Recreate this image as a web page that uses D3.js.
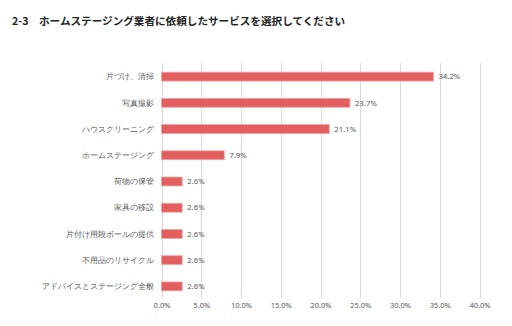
<!DOCTYPE html>
<html><head><meta charset="utf-8">
<script src="https://cdn.jsdelivr.net/npm/d3@7"></script>
<style>body{margin:0;background:#fff;}svg{display:block;font-family:"Noto Sans CJK JP","Noto Sans",sans-serif;}</style>
</head><body><svg id="c" width="512" height="326"></svg>
<script>
const title = "2-3　ホームステージング業者に依頼したサービスを選択してください";
const categories = ["片づけ、清掃","写真撮影","ハウスクリーニング","ホームステージング","荷物の保管","家具の移設","片付け用段ボールの提供","不用品のリサイクル","アドバイスとステージング全般"];
const values = [34.2,23.7,21.1,7.9,2.6,2.6,2.6,2.6,2.6];
const ticks = [0,5,10,15,20,25,30,35,40];

const svg = d3.select("#c");
const x = d3.scaleLinear().domain([0,40]).range([161.5,479.5]);
const y = d3.scaleBand().domain(categories).range([63.5,299.5]).paddingInner(0.66).paddingOuter(0.33);

svg.append("text").attr("x",12).attr("y",25).attr("font-size",10.6).attr("font-weight","bold").attr("fill","#222").text(title);

svg.append("g").selectAll("line").data(ticks).join("line")
  .attr("x1",d=>Math.round(x(d))+0.5).attr("x2",d=>Math.round(x(d))+0.5)
  .attr("y1",63).attr("y2",298).attr("stroke","#d9d9d9").attr("stroke-width",1);

const xa = d3.axisBottom(x).tickValues(ticks).tickFormat(d=>d.toFixed(1)+"%").tickSize(0).tickPadding(0);
const gx = svg.append("g").attr("transform","translate(0,303)").call(xa);
gx.select(".domain").remove();
gx.selectAll("text").attr("font-size",7.5).attr("fill","#595959").attr("dy","0.71em").style("font-family","'Noto Sans','DejaVu Sans',sans-serif");

svg.append("g").selectAll("rect").data(values).join("rect")
  .attr("x",x(0)).attr("y",(d,i)=>y(categories[i]))
  .attr("width",d=>x(d)-x(0)).attr("height",y.bandwidth())
  .attr("fill","#e35f5f").attr("stroke","#f2a5a5").attr("stroke-width",0.8);

const ya = d3.axisLeft(y).tickSize(0).tickPadding(8);
const gy = svg.append("g").attr("transform",`translate(${x(0)},0)`).call(ya);
gy.select(".domain").remove();
gy.selectAll("text").attr("font-size",8.4).attr("fill","#595959");

svg.append("g").selectAll("text").data(values).join("text")
  .attr("x",d=>x(d)+5).attr("y",(d,i)=>y(categories[i])+y.bandwidth()/2).attr("dy","0.35em")
  .attr("font-size",7.8).attr("fill","#595959").style("font-family","'Noto Sans','DejaVu Sans',sans-serif")
  .text(d=>d.toFixed(1)+"%");
</script></body></html>
